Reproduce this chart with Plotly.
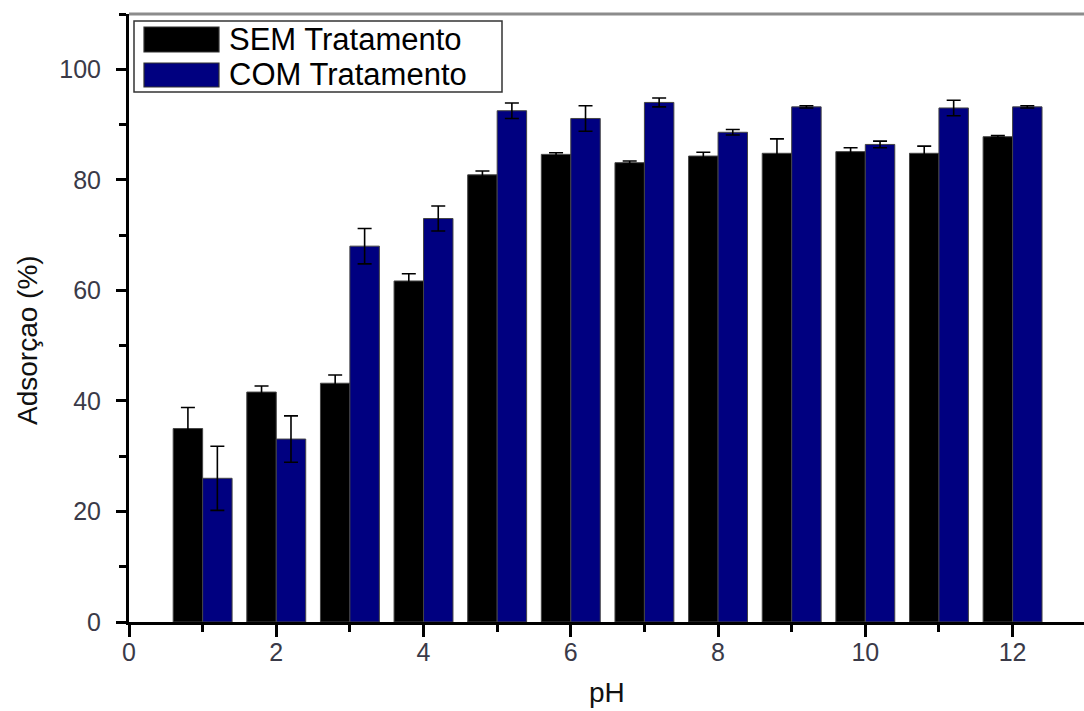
import plotly.graph_objects as go

# ---- data ----
ph = [1, 2, 3, 4, 5, 6, 7, 8, 9, 10, 11, 12]
sem_trat = [35.0, 41.6, 43.2, 61.7, 80.9, 84.6, 83.1, 84.3, 84.8, 85.1, 84.8, 87.8]
sem_err = [3.8, 1.1, 1.5, 1.3, 0.7, 0.3, 0.3, 0.7, 2.6, 0.7, 1.3, 0.2]
com_trat = [26.0, 33.1, 68.0, 73.0, 92.5, 91.1, 94.0, 88.6, 93.2, 86.4, 93.0, 93.2]
com_err = [5.8, 4.2, 3.2, 2.25, 1.4, 2.3, 0.8, 0.5, 0.2, 0.6, 1.4, 0.2]
series_names = ["SEM Tratamento", "COM Tratamento"]
x_title = "pH"
y_title = "Adsorçao (%)"

# ---- styling ----
W, H = 1084, 711
L, R, T, B = 129, 0, 14, 89
PW, PH = W - L - R, H - T - B
FONT = "Liberation Sans, Arial, sans-serif"
TICKCOL = "#3a3a48"
BLACK = "#000000"
NAVY = "#000080"


def px(xp):
    return (xp - L) / PW


def py(yp):
    return (H - B - yp) / PH


fig = go.Figure()
fig.add_trace(go.Bar(
    x=ph, y=sem_trat, name=series_names[0],
    marker=dict(color=BLACK, line=dict(color="#444444", width=1)),
    error_y=dict(type="data", array=sem_err, visible=True,
                 color="#000000", thickness=1.6, width=7),
))
fig.add_trace(go.Bar(
    x=ph, y=com_trat, name=series_names[1],
    marker=dict(color=NAVY, line=dict(color="#444444", width=1)),
    error_y=dict(type="data", array=com_err, visible=True,
                 color="#000000", thickness=1.6, width=7),
))

shapes = []
annotations = []

# top border line (gray)
shapes.append(dict(type="line", xref="paper", yref="paper",
                   x0=0, x1=1, y0=1, y1=1,
                   line=dict(color="#8c8c8c", width=3)))

# manual legend
shapes.append(dict(type="rect", xref="paper", yref="paper",
                   x0=px(134), x1=px(502), y0=py(92), y1=py(21),
                   line=dict(color="#333333", width=1.5), fillcolor="rgba(0,0,0,0)"))
rows = [(27, 52, BLACK), (63, 87, NAVY)]
for (top, bot, col), name in zip(rows, series_names):
    shapes.append(dict(type="rect", xref="paper", yref="paper",
                       x0=px(144), x1=px(219), y0=py(bot), y1=py(top),
                       line=dict(color="#333333", width=1.2), fillcolor=col))
    annotations.append(dict(xref="paper", yref="paper", x=px(227), y=py((top + bot) / 2),
                            xanchor="left", yanchor="middle", showarrow=False,
                            text=name, font=dict(family=FONT, size=31, color="#000000")))

# axis titles
annotations.append(dict(xref="paper", yref="paper", x=px(28), y=py(340),
                        xanchor="center", yanchor="middle", showarrow=False,
                        textangle=-90, text=y_title,
                        font=dict(family=FONT, size=28, color="#111111")))
annotations.append(dict(xref="paper", yref="paper", x=px(607), y=py(692),
                        xanchor="center", yanchor="middle", showarrow=False,
                        text=x_title,
                        font=dict(family=FONT, size=28, color="#111111")))

fig.update_layout(
    width=W, height=H,
    margin=dict(l=L, r=R, t=T, b=B, pad=0),
    paper_bgcolor="white", plot_bgcolor="white",
    barmode="group", bargap=0.2, bargroupgap=0.0,
    showlegend=False,
    shapes=shapes, annotations=annotations,
    font=dict(family=FONT),
)
fig.update_xaxes(
    range=[0, 12.97], tickmode="linear", tick0=0, dtick=2,
    showgrid=False, zeroline=False,
    showline=True, linecolor="#000000", linewidth=2.5,
    ticks="outside", ticklen=12, tickwidth=2.5, tickcolor="#000000",
    ticklabelstandoff=-6,
    tickfont=dict(family=FONT, size=25, color=TICKCOL),
    minor=dict(tick0=0, dtick=1, ticks="outside", ticklen=7, tickwidth=2.5,
               tickcolor="#000000", showgrid=False),
)
fig.update_yaxes(
    range=[0, 110], tickmode="linear", tick0=0, dtick=20,
    showgrid=False, zeroline=False,
    showline=True, linecolor="#000000", linewidth=3,
    ticks="outside", ticklen=10, tickwidth=2.5, tickcolor="#000000",
    ticklabelstandoff=10,
    tickfont=dict(family=FONT, size=25, color=TICKCOL),
    minor=dict(tick0=0, dtick=10, ticks="outside", ticklen=7, tickwidth=2.5,
               tickcolor="#000000", showgrid=False),
)

fig.write_html("out.html")
